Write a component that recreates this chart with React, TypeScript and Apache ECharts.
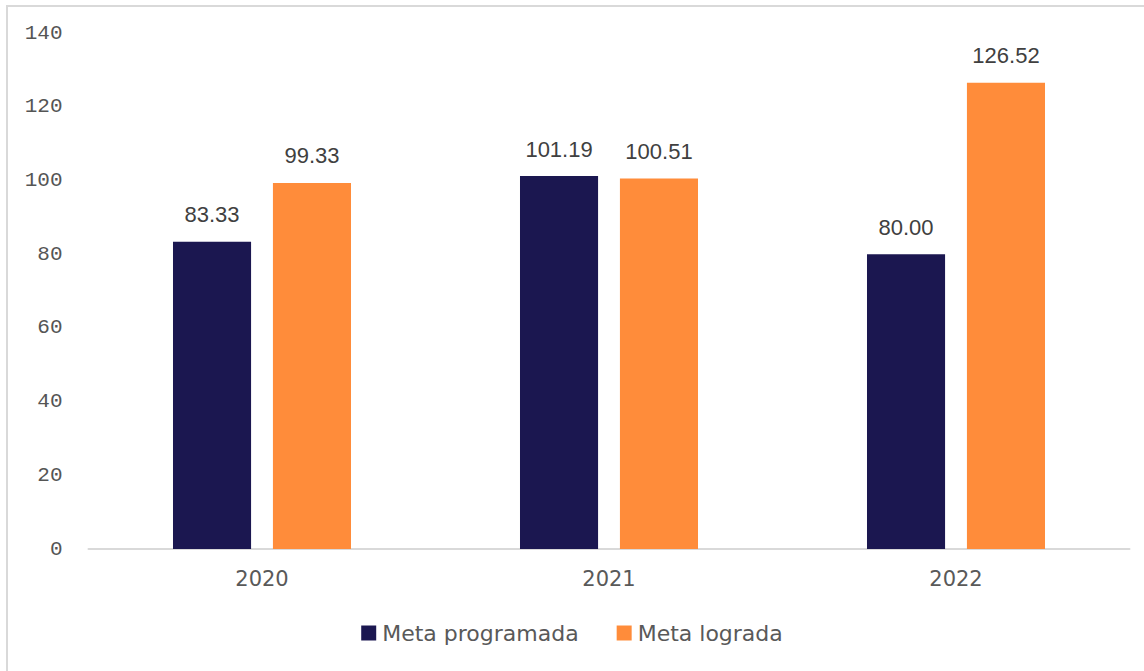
import React, { useEffect, useRef } from "react";
import * as echarts from "echarts";

const categories = ["2020", "2021", "2022"];
const metaProgramada = [83.33, 101.19, 80.0];
const metaLograda = [99.33, 100.51, 126.52];
const seriesNames = ["Meta programada", "Meta lograda"];
const yTicks = { min: 0, max: 140, interval: 20 };

export default function App() {
  const ref = useRef<HTMLDivElement>(null);
  useEffect(() => {
    if (!ref.current) return;
    const chart = echarts.init(ref.current, null, { renderer: "svg" });
    const labelStyle = {
      show: true,
      position: "top" as const,
      distance: 16,
      fontFamily: "Liberation Sans",
      fontSize: 22,
      color: "#404040",
      formatter: (p: any) => Number(p.value).toFixed(2),
    };
    chart.setOption({
      animation: false,
      backgroundColor: "#ffffff",
      graphic: [
        {
          type: "rect",
          shape: { x: 7, y: 6, width: 1300, height: 800 },
          style: { fill: "none", stroke: "#d9d9d9", lineWidth: 2 },
          silent: true,
        },
      ],
      grid: { left: 88.5, right: 14.5, top: 33, bottom: 122, containLabel: false },
      legend: {
        bottom: 22,
        left: "center",
        itemWidth: 15,
        itemHeight: 15,
        itemGap: 38,
        icon: "rect",
        textStyle: { fontFamily: "DejaVu Sans", fontSize: 22, color: "#595959", padding: [0, 0, 0, 1] },
        data: seriesNames,
      },
      xAxis: {
        type: "category",
        data: categories,
        axisLine: { lineStyle: { color: "#d9d9d9", width: 2 } },
        axisTick: { show: false },
        axisLabel: { fontFamily: "DejaVu Sans", fontSize: 21, color: "#595959", margin: 19 },
      },
      yAxis: {
        type: "value",
        min: yTicks.min,
        max: yTicks.max,
        interval: yTicks.interval,
        splitLine: { show: false },
        axisLine: { show: false },
        axisTick: { show: false },
        axisLabel: { fontFamily: "Liberation Mono", fontSize: 21, color: "#555555", margin: 26 },
      },
      series: [
        {
          name: seriesNames[0],
          type: "bar",
          data: metaProgramada,
          barWidth: "22.5%",
          barGap: "28%",
          itemStyle: { color: "#1b1750" },
          label: labelStyle,
        },
        {
          name: seriesNames[1],
          type: "bar",
          data: metaLograda,
          barWidth: "22.5%",
          itemStyle: { color: "#ff8c3a" },
          label: labelStyle,
        },
      ],
    });
    return () => chart.dispose();
  }, []);
  return (
    <div
      ref={ref}
      style={{ position: "absolute", left: 0, top: 0, width: 1144, height: 671 }}
    />
  );
}
